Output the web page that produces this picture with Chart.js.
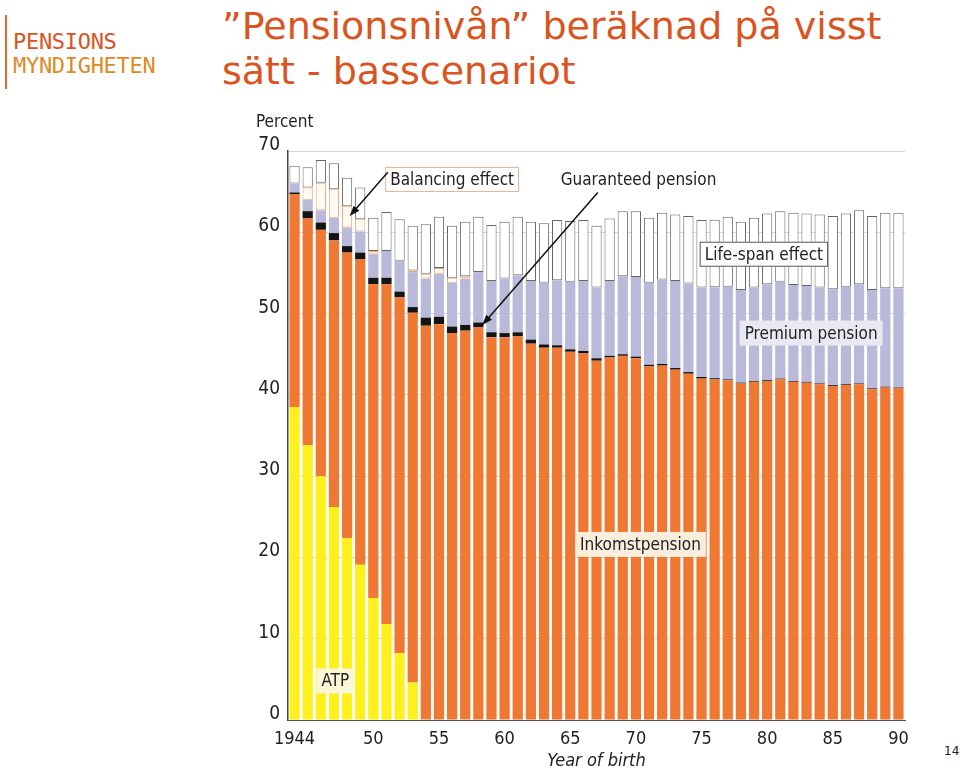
<!DOCTYPE html>
<html>
<head>
<meta charset="utf-8">
<script src="https://cdn.jsdelivr.net/npm/chart.js@4.4.1/dist/chart.umd.min.js"></script>
<style>
  body { margin: 0; width: 960px; height: 771px; background: #fff; position: relative; overflow: hidden; }
  .logo-bar { position: absolute; left: 5px; top: 15px; width: 2px; height: 74px; background: #e06a28; }
  .logo { position: absolute; left: 13px; font-family: "DejaVu Sans Mono", monospace; font-size: 22px; letter-spacing: -0.3px; }
  .title { position: absolute; left: 222px; top: 4px; font-family: "DejaVu Sans", sans-serif; font-size: 38px; line-height: 45px; color: #d9541e; }
  #wrap { position: absolute; left: 240px; top: 100px; width: 700px; height: 671px; }
  .pg { position: absolute; left: 944px; top: 744px; font-family: "DejaVu Sans", sans-serif; font-size: 12px; color: #222; }
</style>
</head>
<body>
<div class="logo-bar"></div>
<div class="logo" style="top:29px;color:#d9541e">PENSIONS</div>
<div class="logo" style="top:53px;color:#e0891e">MYNDIGHETEN</div>
<div class="title">”Pensionsnivån” beräknad på visst<br>sätt - basscenariot</div>
<div id="wrap"><canvas id="grfc"></canvas></div>
<div class="pg">14</div>
<script>
// year of birth 1944 - 1990
const anos = [];
for (let a = 1944; a <= 1990; a++) anos.push(a);

// percent of final salary, each array is one stacked segment
const atp = [38.5, 33.8, 30.0, 26.2, 22.4, 19.1, 15.0, 11.8, 8.2, 4.6,
  0, 0, 0, 0, 0, 0, 0, 0, 0, 0, 0, 0, 0, 0, 0, 0, 0, 0, 0, 0, 0, 0, 0, 0, 0, 0, 0, 0, 0, 0, 0, 0, 0, 0, 0, 0, 0];
const inkomst = [26.2, 27.9, 30.3, 32.8, 35.1, 37.6, 38.6, 41.8, 43.8, 45.5,
  48.5, 48.7, 47.6, 47.9, 48.3, 47.1, 47.1, 47.2, 46.3, 45.8,
  45.8, 45.3, 45.1, 44.2, 44.6, 44.8, 44.5, 43.5, 43.6, 43.1,
  42.6, 42.0, 41.9, 41.8, 41.4, 41.6, 41.7, 41.9, 41.6, 41.5,
  41.3, 41.1, 41.2, 41.3, 40.7, 40.9, 40.8];
const balancing = [0.2, 0.9, 0.9, 0.9, 0.8, 0.8, 0.8, 0.8, 0.7, 0.7,
  1.0, 0.9, 0.8, 0.7, 0.6, 0.6, 0.5, 0.5, 0.5, 0.4,
  0.3, 0.3, 0.3, 0.3, 0.2, 0.2, 0.2, 0.2, 0.2, 0.2,
  0.2, 0.2, 0.15, 0.1, 0.1, 0.1, 0.1, 0.1, 0.1, 0.1,
  0.1, 0.1, 0.1, 0.1, 0.1, 0.1, 0.1];
const premium = [1.1, 1.4, 1.5, 1.9, 2.3, 2.6, 2.9, 3.3, 3.8, 4.3,
  4.8, 5.3, 5.4, 5.7, 6.2, 6.3, 6.7, 7.0, 7.2, 7.6,
  8.0, 8.3, 8.6, 8.7, 9.2, 9.6, 9.8, 10.1, 10.4, 10.7,
  10.9, 11.0, 11.2, 11.4, 11.4, 11.5, 11.8, 11.9, 11.8, 11.8,
  11.8, 11.8, 12.0, 12.2, 12.1, 12.1, 12.2];
const garantia = [0, 1.5, 3.4, 3.5, 2.6, 1.5, 0.4, 0, 0, 0.2,
  0.6, 0.7, 0.6, 0.3, 0, 0, 0, 0, 0, 0,
  0, 0, 0, 0, 0, 0, 0, 0, 0, 0, 0, 0, 0, 0, 0, 0, 0, 0, 0, 0, 0, 0, 0, 0, 0, 0, 0];
const lifespan = [2.2, 2.5, 2.8, 3.2, 3.5, 3.9, 4.1, 4.8, 5.1, 5.5,
  6.1, 6.3, 6.4, 6.7, 6.8, 6.9, 7.0, 7.2, 7.3, 7.3,
  7.4, 7.5, 7.5, 7.6, 7.7, 8.0, 8.1, 8.0, 8.2, 8.2,
  8.3, 8.3, 8.3, 8.6, 8.4, 8.6, 8.7, 8.7, 8.9, 8.9,
  9.0, 9.0, 9.0, 9.1, 9.1, 9.3, 9.3];

const yTicks = [0, 10, 20, 30, 40, 50, 60, 70];

const fonte = '"DejaVu Sans Condensed", "DejaVu Sans", sans-serif';

// labels placed in data coordinates: [text, x index, y value, fill, border]
const rotulos = [
  ["Balancing effect", 12.0, 66.5, "#ffffff", "#e8b48e"],
  ["Guaranteed pension", 26.2, 66.5, "#ffffff", null],
  ["Life-span effect", 35.75, 57.3, "#ffffff", "#555555"],
  ["Premium pension", 39.35, 47.6, "#e9e9f3", null],
  ["Inkomstpension", 26.35, 21.6, "#f9eddc", null],
  ["ATP", 3.1, 4.8, "#fbf6d6", null]
];
// arrows: from [index, value] to [index, value]
const setas = [
  [[7.1, 67.4], [4.2, 62.0]],
  [[23.1, 64.9], [14.3, 48.6]]
];

const extras = {
  id: 'extras',
  afterDraw(chart) {
    const c = chart.ctx, x = chart.scales.x, y = chart.scales.y, area = chart.chartArea;
    const passo = x.getPixelForValue(1) - x.getPixelForValue(0);
    c.save();
    c.fillStyle = '#222';
    c.font = '17px ' + fonte;
    c.textAlign = 'left';
    c.textBaseline = 'alphabetic';
    c.fillText('Percent', area.left - 32, area.top - 24);
    c.font = 'italic 18px ' + fonte;
    c.textAlign = 'center';
    c.fillText('Year of birth', x.getPixelForValue(0) + 23 * passo, area.bottom + 46);

    c.font = '17px ' + fonte;
    c.textBaseline = 'middle';
    rotulos.forEach(r => {
      const px = x.getPixelForValue(0) + r[1] * passo;
      const py = y.getPixelForValue(r[2]);
      const w = c.measureText(r[0]).width + 10, h = 25;
      c.fillStyle = r[3];
      c.fillRect(px - w / 2, py - h / 2, w, h);
      if (r[4]) {
        c.strokeStyle = r[4];
        c.lineWidth = 1;
        c.strokeRect(px - w / 2 + 0.5, py - h / 2 + 0.5, w - 1, h - 1);
      }
      c.fillStyle = '#222';
      c.fillText(r[0], px, py + 1);
    });

    c.strokeStyle = '#111';
    c.fillStyle = '#111';
    c.lineWidth = 1.5;
    setas.forEach(s => {
      const x0 = x.getPixelForValue(0) + s[0][0] * passo, y0 = y.getPixelForValue(s[0][1]);
      const x1 = x.getPixelForValue(0) + s[1][0] * passo, y1 = y.getPixelForValue(s[1][1]);
      const ang = Math.atan2(y1 - y0, x1 - x0);
      c.beginPath();
      c.moveTo(x0, y0);
      c.lineTo(x1 - 6 * Math.cos(ang), y1 - 6 * Math.sin(ang));
      c.stroke();
      c.beginPath();
      c.moveTo(x1, y1);
      c.lineTo(x1 - 11 * Math.cos(ang - 0.35), y1 - 11 * Math.sin(ang - 0.35));
      c.lineTo(x1 - 11 * Math.cos(ang + 0.35), y1 - 11 * Math.sin(ang + 0.35));
      c.closePath();
      c.fill();
    });
    c.restore();
  }
};

function serie(label, data, cor, borda, larg) {
  return {
    label: label,
    data: data,
    backgroundColor: cor,
    borderColor: borda || cor,
    borderWidth: larg || 0,
    borderSkipped: false,
    barPercentage: 0.78,
    categoryPercentage: 1.0
  };
}

let ctx1 = document.getElementById('grfc');
new Chart(ctx1, {
  type: 'bar',
  data: {
    labels: anos,
    datasets: [
      serie('ATP', atp, '#fdf01c'),
      serie('Inkomstpension', inkomst, '#ef7933'),
      serie('Balancing effect', balancing, '#141414'),
      serie('Premium pension', premium, '#b9b9d9'),
      serie('Guaranteed pension', garantia, '#fffaf3', '#eaa676', 1),
      serie('Life-span effect', lifespan, '#ffffff', '#666666', 1)
    ]
  },
  options: {
    responsive: true,
    maintainAspectRatio: false,
    animation: false,
    events: [],
    layout: { padding: { top: 51, right: 35, bottom: 0, left: 0 } },
    plugins: { legend: { display: false }, tooltip: { enabled: false } },
    scales: {
      x: {
        stacked: true,
        grid: { display: false },
        border: { display: true, color: '#555', width: 1 },
        afterFit: s => { s.height = 51; },
        ticks: {
          autoSkip: false,
          maxRotation: 0,
          padding: 1,
          color: '#222',
          font: { family: fonte, size: 18 },
          callback: function (v, i) {
            const a = anos[i];
            if (a === 1944) return '1944';
            if (a >= 1950 && a % 5 === 0) return String(a % 100);
            return '';
          }
        }
      },
      y: {
        stacked: true,
        min: 0,
        max: 70,
        afterFit: s => { s.width = 48; },
        afterBuildTicks: s => { s.ticks = yTicks.map(v => ({ value: v })); },
        grid: { color: '#d9d9d9', drawTicks: false },
        border: { display: true, color: '#444', width: 1.5 },
        ticks: {
          padding: 8,
          labelOffset: -6,
          color: '#222',
          font: { family: fonte, size: 19 }
        }
      }
    }
  },
  plugins: [extras]
});
</script>
</body>
</html>
